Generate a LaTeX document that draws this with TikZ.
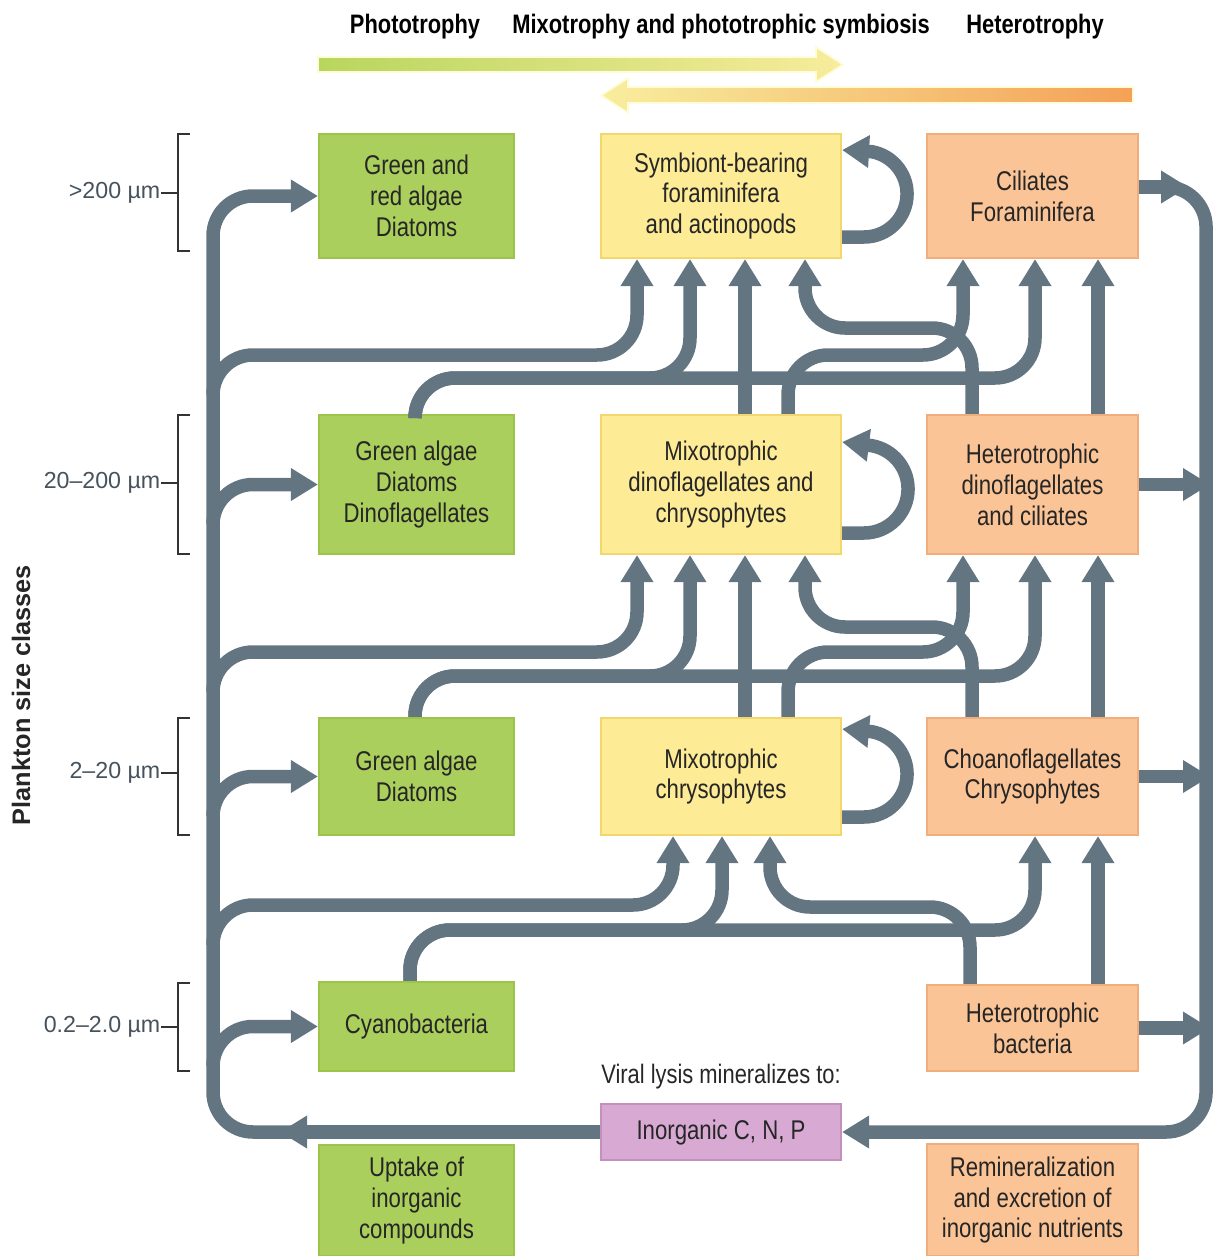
\documentclass[tikz,border=0pt]{standalone}
\usepackage{fontspec}
\setmainfont{Liberation Sans}[FakeStretch=0.82]
\newfontfamily\widefont{Liberation Sans}
\usetikzlibrary{arrows.meta}

\definecolor{algaegreen}{HTML}{ABCF5C}
\definecolor{algaeedge}{HTML}{9CC44A}
\definecolor{mixoyellow}{HTML}{FDEB96}
\definecolor{mixoedge}{HTML}{F2D66E}
\definecolor{heteroorange}{HTML}{FAC497}
\definecolor{heteroedge}{HTML}{F0AE7C}
\definecolor{lysispink}{HTML}{D8AAD3}
\definecolor{lysisedge}{HTML}{C490BE}
\definecolor{pipegray}{HTML}{647582}
\definecolor{sizegray}{HTML}{46525C}

\tikzset{
  box/.style={rectangle, draw, line width=0.6pt, align=center, inner sep=0pt,
              text=black!85, font=\fontsize{7.7}{8.8}\selectfont},
  greenbox/.style={box, fill=algaegreen, draw=algaeedge, minimum width=1.95cm},
  yellowbox/.style={box, fill=mixoyellow, draw=mixoedge, minimum width=2.40cm},
  orangebox/.style={box, fill=heteroorange, draw=heteroedge, minimum width=2.11cm},
  pipe/.style={draw=pipegray, line width=1.35mm, rounded corners=4mm},
  flow/.style={pipe, -{Triangle[width=3.1mm, length=2.7mm]}},
  loopback/.style={draw=pipegray, line width=1.35mm, sharp corners,
                   -{Triangle[width=3.1mm, length=2.7mm]}},
  sizelabel/.style={anchor=east, inner sep=0pt, text=sizegray,
                    font=\widefont\fontsize{6.6}{8}\selectfont},
  bracket/.style={draw=black!80, line width=0.6pt},
  heading/.style={inner sep=0pt, font=\bfseries\fontsize{7.6}{9}\selectfont}
}

\begin{document}
\begin{tikzpicture}
    \useasboundingbox (0,0) rectangle (12.14,-12.56);

    % Trophic gradient

    \node (phototrophy) [heading] at (4.15,-0.27) {Phototrophy};
    \node (mixotrophy) [heading] at (7.21,-0.27)
          {Mixotrophy and phototrophic symbiosis};
    \node (heterotrophy) [heading] at (10.35,-0.27) {Heterotrophy};
    \shade[left color={rgb,255:red,184;green,214;blue,94},
           middle color={rgb,255:red,230;green,228;blue,136},
           right color={rgb,255:red,248;green,236;blue,156},
           draw=yellow!15, line width=0.5pt]
          (3.18,-0.57) -- (8.16,-0.57) -- (8.16,-0.47) -- (8.43,-0.645)
          -- (8.16,-0.82) -- (8.16,-0.72) -- (3.18,-0.72) -- cycle;
    \shade[left color={rgb,255:red,248;green,238;blue,158},
           middle color={rgb,255:red,248;green,216;blue,122},
           right color={rgb,255:red,244;green,161;blue,87},
           draw=yellow!15, line width=0.5pt]
          (11.33,-0.87) -- (6.28,-0.87) -- (6.28,-0.78) -- (6.01,-0.955)
          -- (6.28,-1.13) -- (6.28,-1.03) -- (11.33,-1.03) -- cycle;

    % Size classes

    \node (sizeclasses) [rotate=90, text=black!85,
                         font=\widefont\bfseries\fontsize{7.2}{9}\selectfont]
          at (0.21,-6.95) {Plankton size classes};
    \node (size1) [sizelabel] at (1.61,-1.93) {>200 µm};
    \draw[bracket] (size1.east) -- (1.78,0 |- size1.east);
    \draw[bracket] (1.90,-1.34) -| (1.78,-2.51) -- (1.90,-2.51);
    \node (size2) [sizelabel] at (1.61,-4.83) {20–200 µm};
    \draw[bracket] (size2.east) -- (1.78,0 |- size2.east);
    \draw[bracket] (1.90,-4.15) -| (1.78,-5.54) -- (1.90,-5.54);
    \node (size3) [sizelabel] at (1.61,-7.73) {2–20 µm};
    \draw[bracket] (size3.east) -- (1.78,0 |- size3.east);
    \draw[bracket] (1.90,-7.18) -| (1.78,-8.35) -- (1.90,-8.35);
    \node (size4) [sizelabel] at (1.61,-10.27) {0.2–2.0 µm};
    \draw[bracket] (size4.east) -- (1.78,0 |- size4.east);
    \draw[bracket] (1.90,-9.83) -| (1.78,-10.71) -- (1.90,-10.71);

    % Plankton groups

    \node (greenalgae1) [greenbox, minimum height=1.24cm] at (4.165,-1.96)
          {Green and\\red algae\\Diatoms};
    \node (symbionts) [yellowbox, minimum height=1.24cm] at (7.21,-1.96)
          {Symbiont-bearing\\foraminifera\\and actinopods};
    \node (ciliates) [orangebox, minimum height=1.24cm] at (10.325,-1.96)
          {Ciliates\\Foraminifera};

    \node (greenalgae2) [greenbox, minimum height=1.39cm] at (4.165,-4.845)
          {Green algae\\Diatoms\\Dinoflagellates};
    \node (mixodino) [yellowbox, minimum height=1.39cm] at (7.21,-4.845)
          {Mixotrophic\\dinoflagellates and\\chrysophytes};
    \node (hetdino) [orangebox, minimum height=1.39cm] at (10.325,-4.845)
          {Heterotrophic\\dinoflagellates\\and ciliates};

    \node (greenalgae3) [greenbox, minimum height=1.17cm] at (4.165,-7.765)
          {Green algae\\Diatoms};
    \node (mixochrys) [yellowbox, minimum height=1.17cm] at (7.21,-7.765)
          {Mixotrophic\\chrysophytes};
    \node (choano) [orangebox, minimum height=1.17cm] at (10.325,-7.765)
          {Choanoflagellates\\Chrysophytes};

    \node (cyano) [greenbox, minimum height=0.89cm] at (4.165,-10.265)
          {Cyanobacteria};
    \node (hetbact) [orangebox, minimum height=0.86cm] at (10.325,-10.28)
          {Heterotrophic\\bacteria};

    % Inorganic pool

    \node (lysis) [inner sep=0pt, text=black!85, font=\fontsize{7.6}{9}\selectfont]
          at (7.21,-10.77) {Viral lysis mineralizes to:};
    \node (inorganic) [box, fill=lysispink, draw=lysisedge,
                       minimum width=2.40cm, minimum height=0.56cm]
          at (7.21,-11.32) {Inorganic C, N, P};
    \node (uptake) [greenbox, minimum height=1.11cm] at (4.165,-12.005)
          {Uptake of\\inorganic\\compounds};
    \node (remin) [orangebox, minimum height=1.12cm] at (10.325,-12.00)
          {Remineralization\\and excretion of\\inorganic nutrients};

    % Left trunk: uptake by phototrophs

    \coordinate (lefttrunk) at (2.13,0);
    \draw[flow] (inorganic.west) -- (lefttrunk |- inorganic.west)
          -- (lefttrunk |- greenalgae1.west) -- (greenalgae1.west);
    \draw[flow] (inorganic.west) -- (2.80,0 |- inorganic.west);
    \draw[flow] ([yshift=-4mm]greenalgae2.west -| lefttrunk) |- (greenalgae2.west);
    \draw[flow] ([yshift=-4mm]greenalgae3.west -| lefttrunk) |- (greenalgae3.west);
    \draw[flow] ([yshift=-4mm]cyano.west -| lefttrunk) |- (cyano.west);

    % Right trunk: remineralization

    \draw[flow] ([yshift=0.9mm]ciliates.east) -- ++(0.49,0);
    \draw[flow] ([yshift=0.9mm]ciliates.east) -- ++(0.67,0) |- (inorganic.east);
    \draw[flow] (hetdino.east) -- (12.10,0 |- hetdino.east);
    \draw[flow] (choano.east) -- (12.10,0 |- choano.east);
    \draw[flow] (hetbact.east) -- (12.10,0 |- hetbact.east);

    % Feeding into >200 µm

    \draw[flow] (lefttrunk |- 0,-3.95) |- (6.37,-3.55) -- (6.37,0 |- symbionts.south);
    \draw[flow] (4.15,0 |- greenalgae2.north) |- (6.90,-3.78) -- (6.90,0 |- symbionts.south);
    \draw[flow] (4.15,0 |- greenalgae2.north) |- (10.35,-3.78) -- (10.35,0 |- ciliates.south);
    \draw[flow] (7.45,0 |- mixodino.north) -- (7.45,0 |- symbionts.south);
    \draw[flow] (9.72,0 |- hetdino.north) |- (8.05,-3.28) -- (8.05,0 |- symbionts.south);
    \draw[flow] (7.88,0 |- mixodino.north) |- (9.63,-3.55) -- (9.63,0 |- ciliates.south);
    \draw[flow] (10.98,0 |- hetdino.north) -- (10.98,0 |- ciliates.south);
    \draw[loopback] ([yshift=-4.1mm]symbionts.east) -- ++(0.22,0)
          arc[start angle=-90, end angle=80, radius=4.3mm]
          -- ([yshift=4.6mm]symbionts.east);

    % Feeding into 20–200 µm

    \draw[flow] (lefttrunk |- 0,-6.90) |- (6.37,-6.52) -- (6.37,0 |- mixodino.south);
    \draw[flow] (4.15,0 |- greenalgae3.north) |- (6.90,-6.76) -- (6.90,0 |- mixodino.south);
    \draw[flow] (4.15,0 |- greenalgae3.north) |- (10.35,-6.76) -- (10.35,0 |- hetdino.south);
    \draw[flow] (7.45,0 |- mixochrys.north) -- (7.45,0 |- mixodino.south);
    \draw[flow] (9.72,0 |- choano.north) |- (8.05,-6.27) -- (8.05,0 |- mixodino.south);
    \draw[flow] (7.88,0 |- mixochrys.north) |- (9.63,-6.52) -- (9.63,0 |- hetdino.south);
    \draw[flow] (10.98,0 |- choano.north) -- (10.98,0 |- hetdino.south);
    \draw[loopback] ([yshift=-4.85mm]mixodino.east) -- ++(0.22,0)
          arc[start angle=-90, end angle=80, radius=4.4mm]
          -- ([yshift=4.25mm]mixodino.east);

    % Feeding into 2–20 µm

    \draw[flow] (lefttrunk |- 0,-9.40) |- (6.73,-9.05) -- (6.73,0 |- mixochrys.south);
    \draw[flow] (4.10,0 |- cyano.north) |- (7.22,-9.30) -- (7.22,0 |- mixochrys.south);
    \draw[flow] (4.10,0 |- cyano.north) |- (10.35,-9.30) -- (10.35,0 |- choano.south);
    \draw[flow] (9.70,0 |- hetbact.north) |- (7.70,-9.07) -- (7.70,0 |- mixochrys.south);
    \draw[flow] (10.98,0 |- hetbact.north) -- (10.98,0 |- choano.south);
    \draw[loopback] ([yshift=-4.05mm]mixochrys.east) -- ++(0.22,0)
          arc[start angle=-90, end angle=80, radius=4.3mm]
          -- ([yshift=4.75mm]mixochrys.east);
\end{tikzpicture}
\end{document}
